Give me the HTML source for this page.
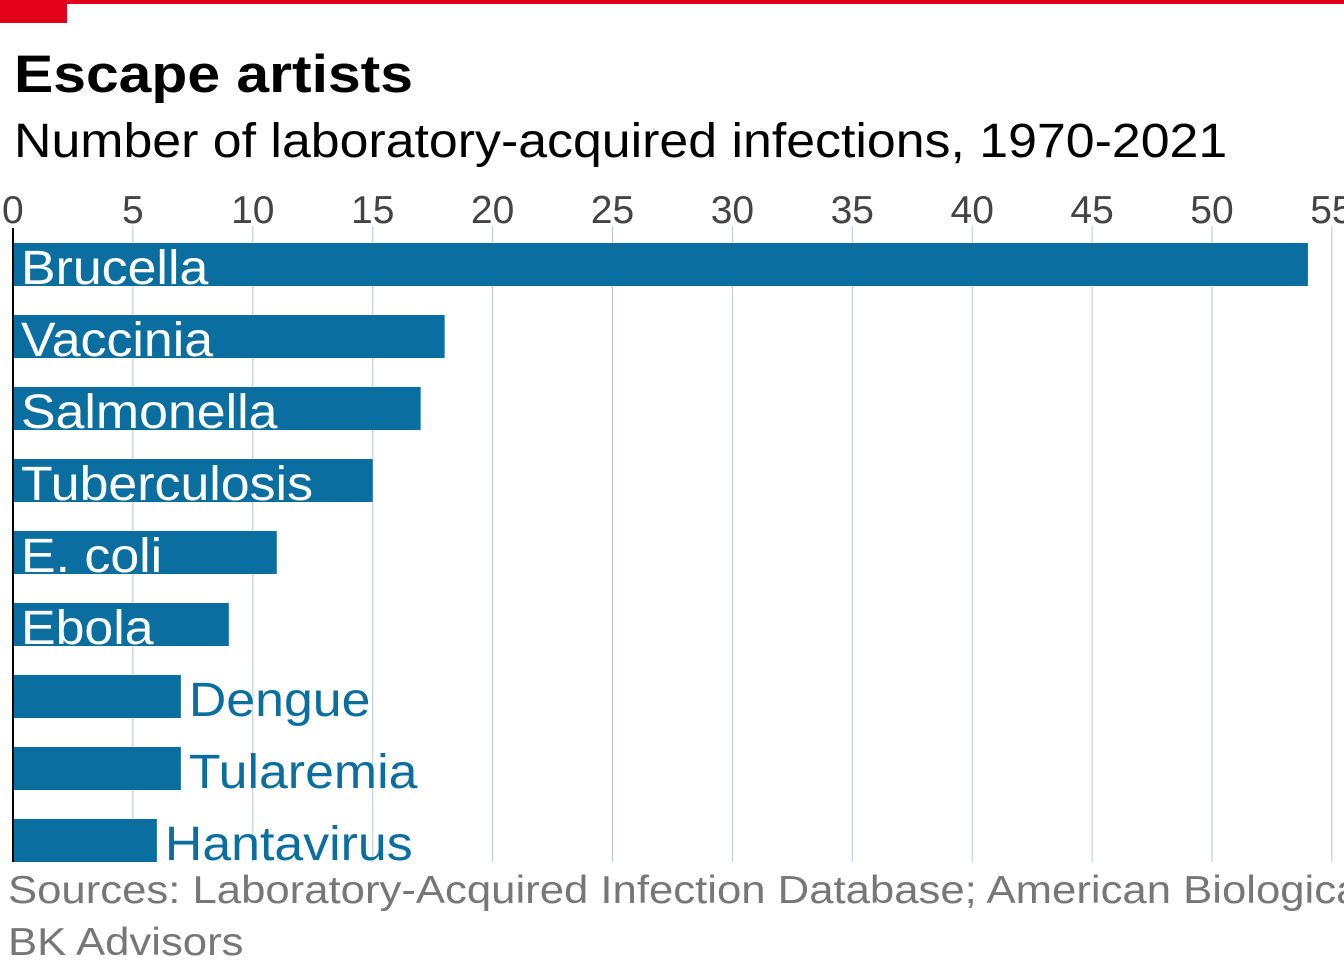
<!DOCTYPE html>
<html><head><meta charset="utf-8">
<style>
html,body{margin:0;padding:0;background:#fff;}
body{width:1344px;height:960px;overflow:hidden;position:relative;font-family:"Liberation Sans",sans-serif;}
</style></head>
<body>
<svg width="1344" height="960" style="position:absolute;left:0;top:0">
<rect x="0" y="0" width="1344" height="4" fill="#e3001b"/>
<rect x="0" y="0" width="67" height="23" fill="#e3001b"/>
<text class="w" data-f="1.11" x="14" y="92" font-size="53" font-weight="bold" fill="#000">Escape artists</text>
<text class="w" x="14" y="157" font-size="48" fill="#000">Number of laboratory-acquired infections, 1970-2021</text>
<g id="grid"></g>
<g id="bars"></g>
<line x1="13" y1="228" x2="13" y2="862" stroke="#000" stroke-width="2"/>
<text class="w" data-f="1.12" x="8" y="903" font-size="39" fill="#777">Sources: Laboratory-Acquired Infection Database; American Biological Safety Association;</text>
<text class="w" data-f="1.12" x="8" y="955" font-size="39" fill="#777">BK Advisors</text>
</svg>
<script>
const categories=["Brucella","Vaccinia","Salmonella","Tuberculosis","E. coli","Ebola","Dengue","Tularemia","Hantavirus"];
const values=[54,18,17,15,11,9,7,7,6];
const ticks=[0,5,10,15,20,25,30,35,40,45,50,55];
const NS="http://www.w3.org/2000/svg";
const x=v=>13+v*23.98;
const y=i=>243+i*72;
const g=document.getElementById('grid'),b=document.getElementById('bars');
function mk(t,a,p){const e=document.createElementNS(NS,t);for(const k in a)e.setAttribute(k,a[k]);p.appendChild(e);return e;}
ticks.forEach(t=>{
  if(t>0){const l=mk('line',{x1:x(t),x2:x(t),y1:226,y2:862,stroke:'#b7c6cf','stroke-width':1},g);
  
  }
  const tx=mk('text',{x:x(t),y:223,'font-size':39,fill:'#444','text-anchor':t===0?'start':'middle'},g);
  if(t===0)tx.setAttribute('x',2);
  tx.textContent=t;
  
  
});
categories.forEach((c,i)=>{
  const r=mk('rect',{x:13,y:y(i),width:x(values[i])-13,height:43,fill:'#0a6fa0'},b);
  
  
  const inside=values[i]>=9;
  const t=mk('text',{x:inside?21:x(values[i])+8,y:y(i)+41,'font-size':48,fill:inside?'#fff':'#0a6fa0'},b);
  t.setAttribute('class','w');
  t.textContent=c;
  
  
});
document.querySelectorAll('text.w').forEach(t=>{
  const L=t.getComputedTextLength();
  const f=parseFloat(t.getAttribute('data-f')||'1.08');
  t.setAttribute('textLength',(L*f).toFixed(1));
  t.setAttribute('lengthAdjust','spacingAndGlyphs');
});
</script>
</body></html>
